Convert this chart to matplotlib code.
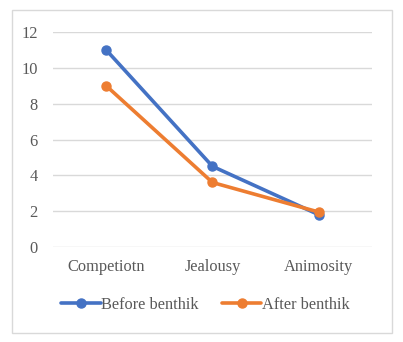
import matplotlib.pyplot as plt
from matplotlib.patches import Rectangle

categories = ["Competiotn", "Jealousy", "Animosity"]
before = [11.0, 4.5, 1.8]
after = [9.0, 3.6, 1.95]
yticks = [0, 2, 4, 6, 8, 10, 12]

plt.rcParams['font.family'] = ['Liberation Serif', 'DejaVu Serif']

fig = plt.figure(figsize=(4.03, 3.42), dpi=100)
ax = fig.add_axes([0.1315, 0.2778, 0.7915, 0.6286])

# outer chart border
fig.patches.append(Rectangle((12 / 403, 1 - 333 / 342), 380 / 403, 323 / 342,
                             transform=fig.transFigure, fill=False,
                             edgecolor='#d9d9d9', linewidth=1.0))

x = range(len(categories))
ax.plot(x, before, color='#4472C4', linewidth=2.6, marker='o', markersize=6.5,
        label='Before benthik', solid_capstyle='round')
ax.plot(x, after, color='#ED7D31', linewidth=2.6, marker='o', markersize=6.5,
        label='After benthik', solid_capstyle='round')

ax.set_xlim(-0.5, 2.5)
ax.set_ylim(0, 12)
ax.set_yticks(yticks)
ax.set_xticks(list(x))
ax.set_xticklabels(categories)
ax.yaxis.grid(True, color='#d9d9d9', linewidth=1.0)
ax.set_axisbelow(True)
for s in ax.spines.values():
    s.set_visible(False)
ax.tick_params(axis='both', length=0, labelsize=11.8, colors='#595959')
ax.tick_params(axis='y', pad=11)
ax.tick_params(axis='x', pad=9)

leg = fig.legend(loc='center', bbox_to_anchor=(0.51, 1 - 305 / 342), ncol=2,
                 frameon=False, fontsize=11.8, handlelength=2.4, handletextpad=0.05,
                 columnspacing=1.4)
for t in leg.get_texts():
    t.set_color('#595959')

fig.savefig('out.png', dpi=100)
